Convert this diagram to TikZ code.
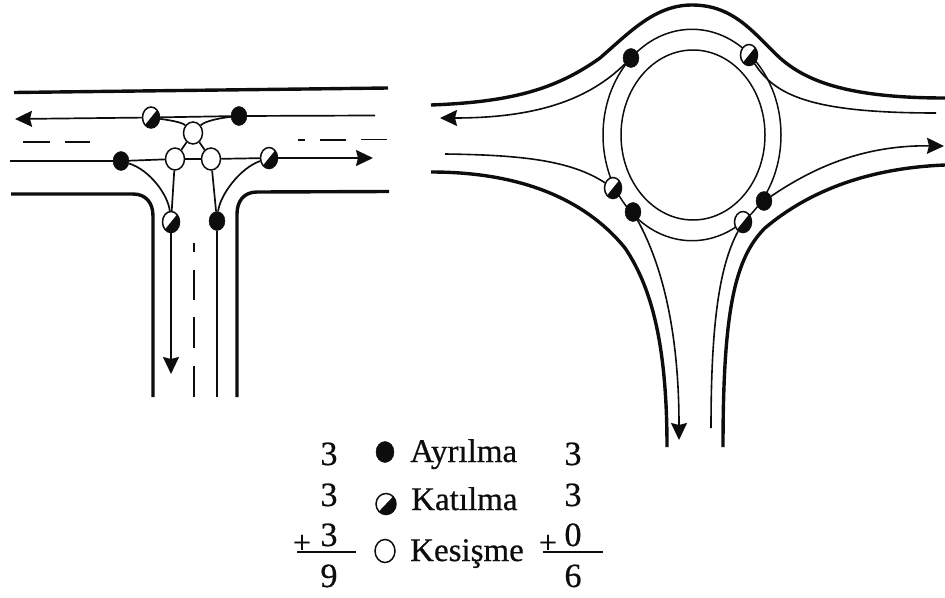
\documentclass[tikz,border=0pt]{standalone}
\usepackage{fontspec}
\setmainfont{Liberation Serif}
\newfontfamily\heavyfont[FakeBold=0.6]{Liberation Serif}
\usetikzlibrary{arrows.meta,backgrounds,shapes.geometric}
\definecolor{ink}{gray}{0.05}
\tikzset{
  road/.style={draw=ink,line width=3.4pt,line cap=butt},
  lane/.style={draw=ink,line width=1.7pt},
  thin lane/.style={draw=ink,line width=1.6pt},
  ringl/.style={draw=ink,line width=1.5pt},
  tiparrow/.style={-{Stealth[length=17pt,width=16pt,inset=2pt]}},
  dashmark/.style={draw=ink,line width=1.8pt},
  blackpt/.style={ellipse,draw=ink,fill=ink,inner sep=0pt,minimum width=16pt,minimum height=19pt},
  halfpt/.style={ellipse,draw=ink,line width=1.5pt,fill=white,inner sep=0pt,minimum width=17pt,minimum height=21pt,
    path picture={\fill[ink] (path picture bounding box.south west) -- (path picture bounding box.north east) -- (path picture bounding box.south east) -- cycle;}},
  openpt/.style={ellipse,draw=ink,line width=1.5pt,fill=white,inner sep=0pt,minimum width=19pt,minimum height=22pt},
  txt/.style={font=\heavyfont\fontsize{34}{34}\selectfont,text=ink,inner sep=0pt,anchor=base},
  plus/.style={font=\heavyfont\fontsize{32}{32}\selectfont,text=ink,inner sep=0pt},
  lab/.style={font=\heavyfont\fontsize{33}{33}\selectfont,text=ink,inner sep=0pt,anchor=base west},
}
\begin{document}
\begin{tikzpicture}[x=1pt,y=-1pt]
\useasboundingbox (0,0) rectangle (945,597);
% ---- T intersection
\node[halfpt] (a1) at (151,117.5) {};
\node[blackpt] (a2) at (239,116) {};
\node[openpt] (a3) at (193,133) {};
\node[blackpt] (a4) at (121,161) {};
\node[openpt] (a5) at (175,159) {};
\node[openpt] (a6) at (211,159) {};
\node[halfpt] (a7) at (269,158) {};
\node[halfpt] (a8) at (171,222) {};
\node[blackpt] (a9) at (217,221) {};
\coordinate (w1) at (15,119);
\coordinate (e1) at (375,115.5);
\coordinate (w2) at (10,161);
\coordinate (e2) at (373,158);
\coordinate (s1) at (171,374);
\coordinate (s2) at (217,397);
\begin{scope}[on background layer]
\draw[road] (14,92.5) -- (388,88);
\draw[road] (11,194) -- (133,194) .. controls (146,194) and (153,203) .. (153,216) -- (153,397);
\draw[road] (389,191.5) -- (257,192) .. controls (244,192) and (237,201) .. (237,214) -- (237,397);
\draw[dashmark] (23,142) -- (50,142) (65,142) -- (90,142);
\draw[dashmark] (298,140) -- (305,140) (320,140) -- (346,140) (361,139.5) -- (387,139.5);
\draw[dashmark] (194,243) -- (194,252) (194,270) -- (194,300) (194,317) -- (194,348) (194,366) -- (194,397);
\draw[lane,tiparrow] (a1) -- (w1);
\draw[lane] (a1) -- (a2);
\draw[lane] (a2) -- (e1);
\draw[lane] (w2) -- (a4);
\draw[lane] (a4) -- (a5);
\draw[lane] (a5) -- (a6);
\draw[lane] (a6) -- (a7);
\draw[lane,tiparrow] (a7) -- (e2);
\draw[lane,tiparrow] (a8) -- (s1);
\draw[lane] (a9) -- (s2);
\draw[lane] (a1) .. controls (168,120) and (182,122) .. (a3);
\draw[lane] (a2) .. controls (220,118) and (205,121) .. (a3);
\draw[lane] (a3) -- (a5);
\draw[lane] (a3) -- (a6);
\draw[lane] (a4) .. controls (150,170) and (168,195) .. (a8);
\draw[lane] (a7) .. controls (240,168) and (220,195) .. (a9);
\draw[lane] (a5) -- (a8);
\draw[lane] (a6) -- (a9);
\end{scope}
% ---- Roundabout
\node[blackpt] (r1) at (631,58) {};
\node[halfpt] (r2) at (749,55) {};
\node[halfpt] (r3) at (613,188) {};
\node[blackpt] (r4) at (633,212) {};
\node[halfpt] (r5) at (743,222) {};
\node[blackpt] (r6) at (764,201) {};
\node[ellipse,draw=ink,line width=1.5pt,minimum width=144pt,minimum height=170pt,inner sep=0pt] (isle) at (693,135) {};
\coordinate (rw1) at (440,118);
\coordinate (re1) at (936,113);
\coordinate (rw2) at (445,154);
\coordinate (re2) at (944,146);
\coordinate (rs1) at (679,440);
\coordinate (rs2) at (711,428);
\begin{scope}[on background layer]
\draw[ringl] (692,135) ellipse [x radius=89,y radius=105.7];
\draw[road] (431,105) .. controls (510,102) and (555,90) .. (600,58) .. controls (630,32) and (655,5) .. (692,5) .. controls (735,5) and (755,35) .. (780,58) .. controls (805,80) and (845,98) .. (945,98);
\draw[road] (431,172) .. controls (530,172) and (590,205) .. (625,248) .. controls (650,285) and (667,340) .. (667,447);
\draw[road] (945,165) .. controls (870,168) and (810,190) .. (765,228) .. controls (735,258) and (723,310) .. (723,447);
\draw[thin lane,tiparrow] (r1) .. controls (590,98) and (540,118) .. (rw1);
\draw[thin lane] (r2) .. controls (775,95) and (810,113) .. (re1);
\draw[thin lane] (rw2) .. controls (520,155) and (570,160) .. (r3);
\draw[thin lane,tiparrow] (r6) .. controls (810,170) and (860,145) .. (re2);
\draw[thin lane,tiparrow] (r4) .. controls (665,270) and (679,340) .. (rs1);
\draw[thin lane] (r5) .. controls (720,265) and (711,320) .. (rs2);
\end{scope}
% ---- Legend
\node[txt] (n1) at (329,465) {3};
\node[txt] (n2) at (329,506) {3};
\node[txt] (n3) at (329,546) {3};
\node[txt] (n4) at (329,587) {9};
\node[plus] (p1) at (302,544) {+};
\draw[draw=ink,line width=1.5pt] (297,552) -- (356,552);
\node[blackpt,minimum width=18pt,minimum height=21pt] (l1) at (385,452) {};
\node[halfpt,minimum width=20pt,minimum height=21pt] (l2) at (386,504) {};
\node[openpt,minimum width=20pt,minimum height=23pt] (l3) at (385,551) {};
\node[lab] (t1) at (410,462) {Ayrılma};
\node[lab] (t2) at (411,510) {Katılma};
\node[lab] (t3) at (410,561) {Kesişme};
\node[txt] (m1) at (573,465) {3};
\node[txt] (m2) at (573,506) {3};
\node[txt] (m3) at (573,546) {0};
\node[txt] (m4) at (573,587) {6};
\node[plus] (p2) at (548,544) {+};
\draw[draw=ink,line width=1.5pt] (543,552) -- (603,552);
\end{tikzpicture}
\end{document}
